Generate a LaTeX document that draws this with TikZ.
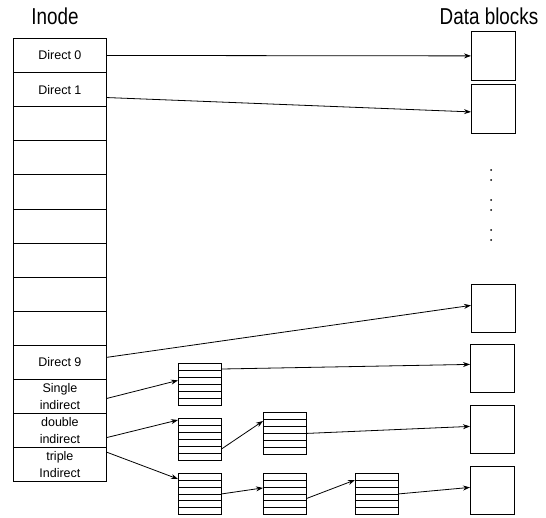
\documentclass[tikz,border=0pt]{standalone}
\usepackage{fontspec}
\setmainfont{Liberation Sans}
\newfontfamily\condfont[FakeStretch=0.82]{Liberation Sans}
\usetikzlibrary{arrows.meta,calc}
\begin{document}
\begin{tikzpicture}[x=1pt,y=-1pt,
  cell/.style={draw, line width=0.8pt, minimum width=93pt, minimum height=34.1pt,
    inner sep=0pt, anchor=north west, align=center,
    font=\fontsize{12.5}{17}\selectfont},
  dblock/.style={draw, line width=0.8pt, minimum width=44pt, minimum height=48pt,
    anchor=north west, inner sep=0pt},
  iblock/.style={draw, line width=0.8pt, minimum width=43pt, minimum height=42pt,
    anchor=north west, inner sep=0pt,
    path picture={\foreach \k in {1,...,5}{
      \draw[line width=0.7pt]
        ($(path picture bounding box.north west)!\k/6!(path picture bounding box.south west)$) --
        ($(path picture bounding box.north east)!\k/6!(path picture bounding box.south east)$);}}},
  arr/.style={line width=0.8pt, -{Stealth[length=7pt,width=5pt]}},
  head/.style={font=\condfont\fontsize{23}{26}\selectfont, inner sep=0pt}]
\useasboundingbox (0,0) rectangle (546,517);

% headers
\node[head] (hin) at (55,16) {Inode};
\node[head] (hdb) at (489,16) {Data blocks};

% inode cells
\node[cell] (d0) at (13,38) {Direct 0};
\node[cell] (d1) at (13,72.1) {Direct 1};
\foreach \i in {2,...,8}{\node[cell] (c\i) at (13,{38+34.1*\i}) {};}
\node[cell] (d9) at (13,344.9) {Direct 9};
\node[cell] (si) at (13,379) {Single\\indirect};
\node[cell] (di) at (13,413.1) {double\\indirect};
\node[cell] (ti) at (13,447.2) {triple\\Indirect};

% data blocks
\node[dblock, minimum height=49pt] (b1) at (471,31) {};
\node[dblock, minimum height=49pt] (b2) at (471,84) {};
\node[dblock] (b3) at (471,284) {};
\node[dblock] (b4) at (470,344) {};
\node[dblock] (b5) at (470,405) {};
\node[dblock] (b6) at (470,466) {};

% dots
\foreach \yy in {170,180,200,210,230,240}{\fill (491,\yy) circle (1pt);}

% index blocks
\node[iblock] (s1) at (178,363) {};
\node[iblock] (dl1) at (178,418) {};
\node[iblock] (dl2) at (263,412) {};
\node[iblock, minimum height=41pt] (tl1) at (178,473) {};
\node[iblock, minimum height=41pt] (tl2) at (263,473) {};
\node[iblock, minimum height=41pt] (tl3) at (355,473) {};

% arrows
\draw[arr] (d0.east) -- (b1.west);
\draw[arr] ([yshift=-8pt]d1.east) -- ([yshift=-3pt]b2.west);
\draw[arr] ([yshift=5pt]d9.east) -- ([yshift=3pt]b3.west);
\draw[arr] ([yshift=-2pt]si.east) -- ([yshift=4pt]s1.west);
\draw[arr] ([yshift=-6pt]s1.north east) -- ([yshift=4pt]b4.west);
\draw[arr] ([yshift=-7pt]di.east) -- ([yshift=-2pt]dl1.north west);
\draw[arr] ([yshift=12pt]dl1.south east) -- ([yshift=-9pt]dl2.north west);
\draw[arr] (dl2.east) -- ([yshift=3pt]b5.west);
\draw[arr] ([yshift=-5pt]ti.north east) -- ([yshift=-6pt]tl1.north west);
\draw[arr] (tl1.east) -- ([yshift=6pt]tl2.west);
\draw[arr] ([yshift=-4.5pt]tl2.east) -- ([yshift=-7pt]tl3.north west);
\draw[arr] (tl3.east) -- ([yshift=3pt]b6.west);
\end{tikzpicture}
\end{document}
